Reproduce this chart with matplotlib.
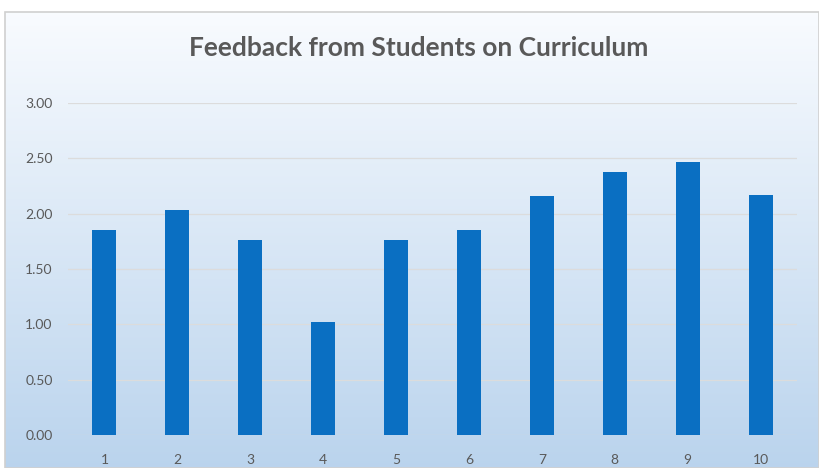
import numpy as np
import matplotlib.pyplot as plt

# data
categories = ['1', '2', '3', '4', '5', '6', '7', '8', '9', '10']
scores = [1.85, 2.03, 1.76, 1.02, 1.76, 1.85, 2.16, 2.38, 2.47, 2.17]
yticks = [0.0, 0.5, 1.0, 1.5, 2.0, 2.5, 3.0]

plt.rcParams['font.family'] = ['Lato', 'DejaVu Sans']

fig = plt.figure(figsize=(8.19, 4.68), dpi=100)
fig.patch.set_facecolor('white')

# chart area background: white at top -> light blue at bottom
bg = fig.add_axes([5/819, 0, 1 - 5/819, (468 - 12) / 468])
grad = np.linspace(0, 1, 256).reshape(-1, 1)
c_top = np.array([0.975, 0.985, 0.998])
c_bot = np.array([0.73, 0.83, 0.93])
img = c_top + (c_bot - c_top) * grad[:, :, None]
bg.imshow(img, aspect='auto', extent=[0, 1, 0, 1], origin='upper')
bg.set_axis_off()
bg.add_patch(plt.Rectangle((0, 0), 1, 1, fill=False, ec='#d0d0d0', lw=1.2,
                           transform=bg.transAxes, clip_on=False))

ax = fig.add_axes([68/819, 33/468, 729/819, (435 - 103) / 468])
ax.patch.set_alpha(0)
x = np.arange(len(categories))
ax.bar(x, scores, width=0.33, color='#0a6fc2', zorder=3)

ax.set_xlim(-0.5, len(categories) - 0.5)
ax.set_ylim(0, 3)
ax.set_xticks(x)
ax.set_xticklabels(categories)
ax.set_yticks(yticks)
ax.set_yticklabels(['%.2f' % v for v in yticks])
ax.tick_params(length=0, labelsize=10, colors='#595959')
ax.tick_params(axis='x', pad=14)
ax.tick_params(axis='y', pad=11)
ax.grid(axis='y', color='#dcdcdc', lw=0.9, zorder=0)
for s in ax.spines.values():
    s.set_visible(False)

fig.text(419/819, 1 - 48/468, 'Feedback from Students on Curriculum',
         ha='center', va='center', fontsize=19, fontweight='bold', color='#595959')

fig.savefig('out.png', dpi=100)
